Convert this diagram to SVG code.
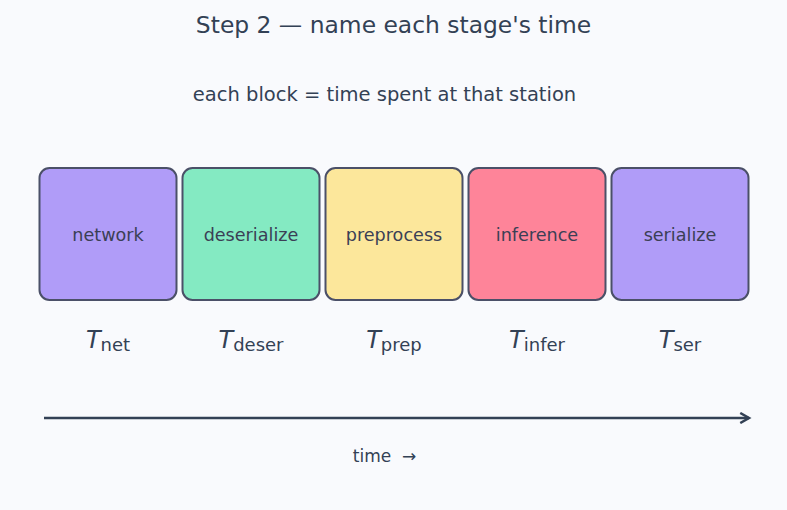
<svg xmlns="http://www.w3.org/2000/svg" width="787" height="510" viewBox="0 0 787 510">
<defs>
<style>
text{font-family:"DejaVu Sans","Liberation Sans",sans-serif;fill:#334155}
.box{stroke:#4b5068;stroke-width:2}
.lbl{font-size:17.6px;text-anchor:middle;fill:#3b3f55}
.t{font-size:24px;font-style:italic}
.sub{font-size:18px;font-style:normal}
</style>
<marker id="ah" viewBox="0 0 10 10" refX="8" refY="5" markerWidth="5" markerHeight="5" orient="auto" markerUnits="strokeWidth">
<path d="M1,1 L8,5 L1,9" fill="none" stroke="#334155" stroke-width="2"/>
</marker>
</defs>
<rect width="787" height="510" fill="#f9fafd"/>
<text x="393.5" y="33" font-size="23.4" text-anchor="middle">Step 2 — name each stage's time</text>
<text x="384.5" y="101" font-size="19.5" text-anchor="middle">each block = time spent at that station</text>
<g id="network"><rect class="box" x="39.5" y="168" width="137" height="132" rx="10" fill="#b09cf8"/><text class="lbl" x="108" y="241">network</text></g>
<g id="deserialize"><rect class="box" x="182.5" y="168" width="137" height="132" rx="10" fill="#84eac2"/><text class="lbl" x="251" y="241">deserialize</text></g>
<g id="preprocess"><rect class="box" x="325.5" y="168" width="137" height="132" rx="10" fill="#fce79b"/><text class="lbl" x="394" y="241">preprocess</text></g>
<g id="inference"><rect class="box" x="468.5" y="168" width="137" height="132" rx="10" fill="#fe8499"/><text class="lbl" x="537" y="241">inference</text></g>
<g id="serialize"><rect class="box" x="611.5" y="168" width="137" height="132" rx="10" fill="#b09cf8"/><text class="lbl" x="680" y="241">serialize</text></g>
<g id="labels">
<text class="t" x="108" y="348" text-anchor="middle">T<tspan class="sub" dy="2.5">net</tspan></text>
<text class="t" x="251" y="348" text-anchor="middle">T<tspan class="sub" dy="2.5">deser</tspan></text>
<text class="t" x="394" y="348" text-anchor="middle">T<tspan class="sub" dy="2.5">prep</tspan></text>
<text class="t" x="537" y="348" text-anchor="middle">T<tspan class="sub" dy="2.5">infer</tspan></text>
<text class="t" x="680" y="348" text-anchor="middle">T<tspan class="sub" dy="2.5">ser</tspan></text>
</g>
<g id="connectors">
<line x1="44" y1="418" x2="749" y2="418" stroke="#334155" stroke-width="2.5" marker-end="url(#ah)"/>
</g>
<text x="384.5" y="462" font-size="17" text-anchor="middle" xml:space="preserve">time  →</text>
</svg>
